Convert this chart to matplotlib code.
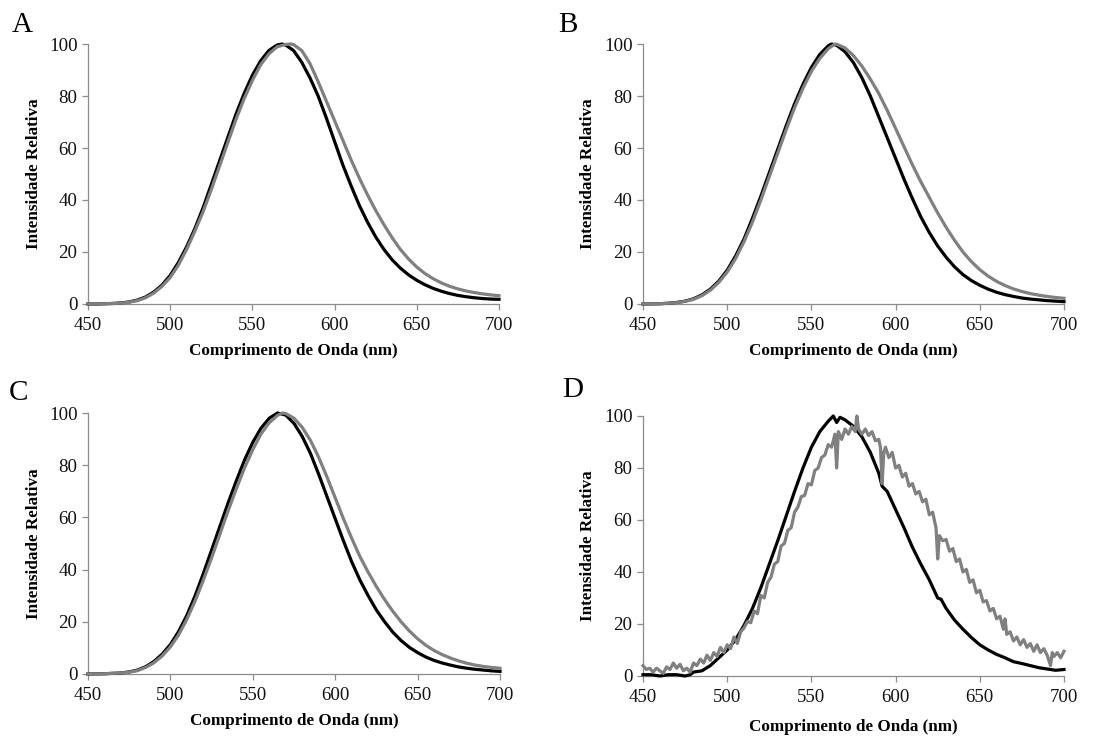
import matplotlib
matplotlib.use("Agg")
import matplotlib.pyplot as plt

plt.rcParams['font.family'] = ['Liberation Serif', 'DejaVu Serif']

# ---------------- Data ----------------
# Panel A
a_black_x = [450, 455, 460, 465, 470, 475, 480, 485, 490, 495, 500, 505, 510, 515, 520, 525, 530, 535, 540, 545,
             550, 555, 560, 565, 568, 570, 575, 580, 585, 590, 595, 600, 605, 610, 615, 620, 625, 630, 635, 640,
             645, 650, 655, 660, 665, 670, 675, 680, 685, 690, 695, 700]
a_black_y = [0, 0, 0.1, 0.2, 0.4, 0.8, 1.5, 2.7, 4.6, 7.3, 11, 16, 22, 29, 37, 46, 55, 64, 73, 81,
             88, 93.5, 97.5, 99.6, 100, 99.7, 97.5, 93, 87, 80, 71.5, 62.5, 53.5, 45.5, 38, 31.5, 25.8, 21, 17, 13.8,
             11.2, 9.1, 7.4, 6.0, 4.9, 4.0, 3.3, 2.8, 2.4, 2.1, 1.9, 1.8]
a_gray_x = [450, 460, 470, 475, 480, 485, 490, 495, 500, 505, 510, 515, 520, 525, 530, 535, 540, 545, 550, 555,
            560, 565, 570, 573, 575, 580, 585, 590, 595, 600, 605, 610, 615, 620, 625, 630, 635, 640, 645, 650,
            655, 660, 665, 670, 675, 680, 685, 690, 695, 700]
a_gray_y = [0, 0.1, 0.3, 0.7, 1.3, 2.4, 4.2, 6.8, 10.2, 15, 21, 28, 35.5, 44, 53, 62, 71, 79, 86, 92,
            96.2, 98.9, 99.8, 100, 99.8, 97.5, 92.5, 85.5, 78, 70.5, 63, 55.5, 48.5, 42, 36, 30.5, 25.5, 21, 17.3, 14.2,
            11.7, 9.7, 8.1, 6.8, 5.8, 5.0, 4.4, 3.9, 3.5, 3.2]

# Panel B
b_black_x = [450, 460, 465, 470, 475, 480, 485, 490, 495, 500, 505, 510, 515, 520, 525, 530, 535, 540, 545, 550,
             555, 560, 562, 565, 570, 575, 580, 585, 590, 595, 600, 605, 610, 615, 620, 625, 630, 635, 640, 645,
             650, 655, 660, 665, 670, 675, 680, 690, 700]
b_black_y = [0, 0.1, 0.3, 0.6, 1.1, 2, 3.5, 5.7, 8.8, 13, 18.5, 25, 33, 41.5, 50.5, 59.5, 68.5, 77, 84.5, 91,
             96, 99.3, 100, 99.5, 97, 92.8, 87, 80, 72, 64, 56, 48, 40.5, 33.5, 27.5, 22.3, 18, 14.3, 11.3, 9,
             7.2, 5.7, 4.5, 3.6, 2.9, 2.3, 1.9, 1.3, 0.9]
b_gray_x = [450, 460, 470, 475, 480, 485, 490, 495, 500, 505, 510, 515, 520, 525, 530, 535, 540, 545, 550, 555,
            560, 564, 565, 570, 575, 580, 585, 590, 595, 600, 605, 610, 615, 620, 625, 630, 635, 640, 645, 650,
            655, 660, 665, 670, 675, 680, 685, 690, 695, 700]
b_gray_y = [0, 0.1, 0.5, 1, 1.8, 3.2, 5.3, 8.3, 12.3, 17.5, 24, 31.5, 40, 49, 58, 67, 75.5, 83, 89.5, 94.5,
            98.2, 100, 99.9, 98.5, 95.5, 91.5, 86.5, 81, 74.5, 67.5, 60.5, 53.5, 47, 41, 35, 29.5, 24.5, 20, 16.3, 13.2,
            10.7, 8.7, 7.1, 5.8, 4.8, 4.0, 3.4, 2.9, 2.5, 2.2]

# Panel C
c_black_x = [450, 460, 470, 475, 480, 485, 490, 495, 500, 505, 510, 515, 520, 525, 530, 535, 540, 545, 550, 555,
             560, 565, 570, 575, 580, 585, 590, 595, 600, 605, 610, 615, 620, 625, 630, 635, 640, 645, 650, 655,
             660, 665, 670, 675, 680, 685, 690, 695, 700]
c_black_y = [0, 0.1, 0.4, 0.8, 1.5, 2.8, 4.8, 7.6, 11.3, 16.3, 22.5, 30, 38.5, 47.5, 56.5, 65.5, 74, 82, 88.8, 94.2,
             98, 100, 99.2, 96, 91, 84.5, 76.5, 68, 59.5, 51, 43, 36, 30, 24.5, 20, 16, 12.8, 10.2, 8.2, 6.5,
             5.2, 4.2, 3.4, 2.7, 2.2, 1.8, 1.5, 1.2, 1.0]
c_gray_x = [450, 460, 470, 475, 480, 485, 490, 495, 500, 505, 510, 515, 520, 525, 530, 535, 540, 545, 550, 555,
            560, 565, 568, 570, 575, 580, 585, 590, 595, 600, 605, 610, 615, 620, 625, 630, 635, 640, 645, 650,
            655, 660, 665, 670, 675, 680, 685, 690, 695, 700]
c_gray_y = [0, 0.1, 0.4, 0.7, 1.3, 2.5, 4.3, 6.9, 10.4, 15, 21, 28, 36, 44.5, 53.5, 62.5, 71, 79, 86, 92,
            96.3, 99.1, 100, 99.8, 98, 94.5, 89.5, 83, 75.5, 67.5, 59.5, 52, 45, 39, 33.5, 28.5, 24, 20, 16.5, 13.5,
            11, 9, 7.4, 6.1, 5, 4.1, 3.4, 2.9, 2.5, 2.2]

# Panel D (measured, noisy)
d_black_x = [450, 455, 460, 465, 470, 475, 478, 480, 485, 490, 495, 500, 505, 510, 515, 520, 525, 530, 535, 540,
             545, 550, 555, 560, 563, 565, 567, 570, 573, 575, 580, 585, 590, 592, 595, 600, 605, 610, 615, 620,
             625, 627, 630, 635, 640, 645, 650, 655, 660, 665, 670, 675, 680, 685, 690, 695, 700]
d_black_y = [0.5, 0.5, 0, 0.5, 0.5, 0, 0.5, 1.5, 2, 4, 7, 10, 14, 19.5, 26, 34, 43, 52, 61.5, 71,
             80, 88, 94, 98, 100, 97.5, 99.5, 98.5, 97, 96, 92, 86, 78, 73, 71, 64, 57, 49.5, 43, 37,
             30, 29.5, 26, 21.5, 18, 14.8, 12, 10, 8.3, 7, 5.5, 4.8, 4, 3.2, 2.7, 2.2, 2.5]
d_gray_x = [450, 452, 454, 456, 458, 460, 462, 464, 466, 468, 470, 472, 474, 476, 478, 480, 482, 484, 486, 488,
            490, 492, 494, 496, 498, 500, 502, 504, 506, 508, 510, 512, 514, 516, 518, 520, 522, 524, 526, 528,
            530, 532, 534, 536, 538, 540, 542, 544, 546, 548, 550, 552, 554, 556, 558, 560, 562, 564, 565, 566,
            568, 570, 572, 574, 576, 577, 578, 580, 582, 584, 586, 588, 590, 591, 592, 593, 594, 596, 598, 600,
            602, 604, 606, 608, 610, 612, 614, 616, 618, 620, 622, 624, 625, 626, 628, 630, 632, 634, 636, 638,
            640, 642, 644, 646, 648, 650, 652, 654, 656, 658, 660, 662, 664, 665, 666, 668, 670, 672, 674, 676,
            678, 680, 682, 684, 686, 688, 690, 692, 693, 694, 696, 698, 700]
d_gray_y = [4, 2.5, 3, 1.5, 3, 2, 1, 3.5, 2.5, 5, 3, 4.5, 2, 3, 1.5, 5, 4, 6.5, 5, 8,
            6, 9, 7.5, 11, 9, 12, 10.5, 15, 12.5, 17, 18.5, 21, 20.5, 25, 24, 31, 30, 36, 38, 43,
            44, 50, 51, 56, 57, 63, 65, 69, 69.5, 74, 73.5, 79, 80, 84, 85, 89, 88, 93, 80, 94,
            91, 95, 93, 96, 94, 100, 95, 93, 95, 92.5, 94, 90.5, 91, 88, 74, 86, 88, 84, 86, 80,
            81, 76.5, 78, 73, 74, 70, 71, 67, 68, 62, 63, 57, 45, 54, 52, 52.5, 48, 49, 44, 45,
            40, 41, 36, 37, 32, 33, 28.5, 29, 25, 26, 22, 23, 18, 22, 16, 17, 13.5, 15, 12, 14,
            11, 12.5, 9.5, 12, 9, 10.5, 8, 4, 9, 7.5, 9, 7, 9.5]

panels = [
    ("A", a_black_x, a_black_y, a_gray_x, a_gray_y),
    ("B", b_black_x, b_black_y, b_gray_x, b_gray_y),
    ("C", c_black_x, c_black_y, c_gray_x, c_gray_y),
    ("D", d_black_x, d_black_y, d_gray_x, d_gray_y),
]

x_ticks = [450, 500, 550, 600, 650, 700]
y_ticks = [0, 20, 40, 60, 80, 100]
x_label = "Comprimento de Onda (nm)"
y_label = "Intensidade Relativa"

# ---------------- Layout ----------------
W, H = 1107, 738
fig = plt.figure(figsize=(W / 100, H / 100), dpi=100)

# (left, right, top, bottom) in pixels
boxes = [(88, 499, 44, 304), (643, 1064, 44, 304),
         (88, 500, 413, 674), (643, 1064, 416, 676)]
letter_pos = [(22, 25), (568, 25), (18, 393), (573, 390)]
xlabel_y = [351, 351, 721, 727]
ylabel_x = [34, 588, 34, 588]

axis_col = "#8c8c8c"
for (name, bx, by, gx, gy), (l, r, t, b), lp, xly, ylx in zip(panels, boxes, letter_pos, xlabel_y, ylabel_x):
    ax = fig.add_axes([l / W, 1 - b / H, (r - l) / W, (b - t) / H])
    ax.plot(bx, by, color="black", lw=2.3, clip_on=False, zorder=3, solid_joinstyle="round")
    ax.plot(gx, gy, color="#808080", lw=2.3, clip_on=False, zorder=4, solid_joinstyle="round")
    ax.set_xlim(450, 700)
    ax.set_ylim(0, 100)
    ax.set_xticks(x_ticks)
    ax.set_yticks(y_ticks)
    for s in ("top", "right"):
        ax.spines[s].set_visible(False)
    for s in ("left", "bottom"):
        ax.spines[s].set_color(axis_col)
        ax.spines[s].set_linewidth(0.9)
    ax.tick_params(axis="both", direction="out", length=4, width=0.9, color=axis_col,
                   labelsize=13.6, labelcolor="#111111")
    ax.tick_params(axis="x", pad=5.5)
    ax.tick_params(axis="y", pad=3.5)
    ax.set_xlabel(x_label, fontsize=12.3, fontweight="bold", va="center")
    ax.set_ylabel(y_label, fontsize=12.3, fontweight="bold", va="center")
    ax.xaxis.set_label_coords(0.5, -(xly - b) / (b - t))
    ax.yaxis.set_label_coords(-(l - ylx) / (r - l), 0.5)
    fig.text(lp[0] / W, 1 - lp[1] / H, name, fontsize=21, ha="center", va="center")

fig.savefig("out.png", dpi=100)
